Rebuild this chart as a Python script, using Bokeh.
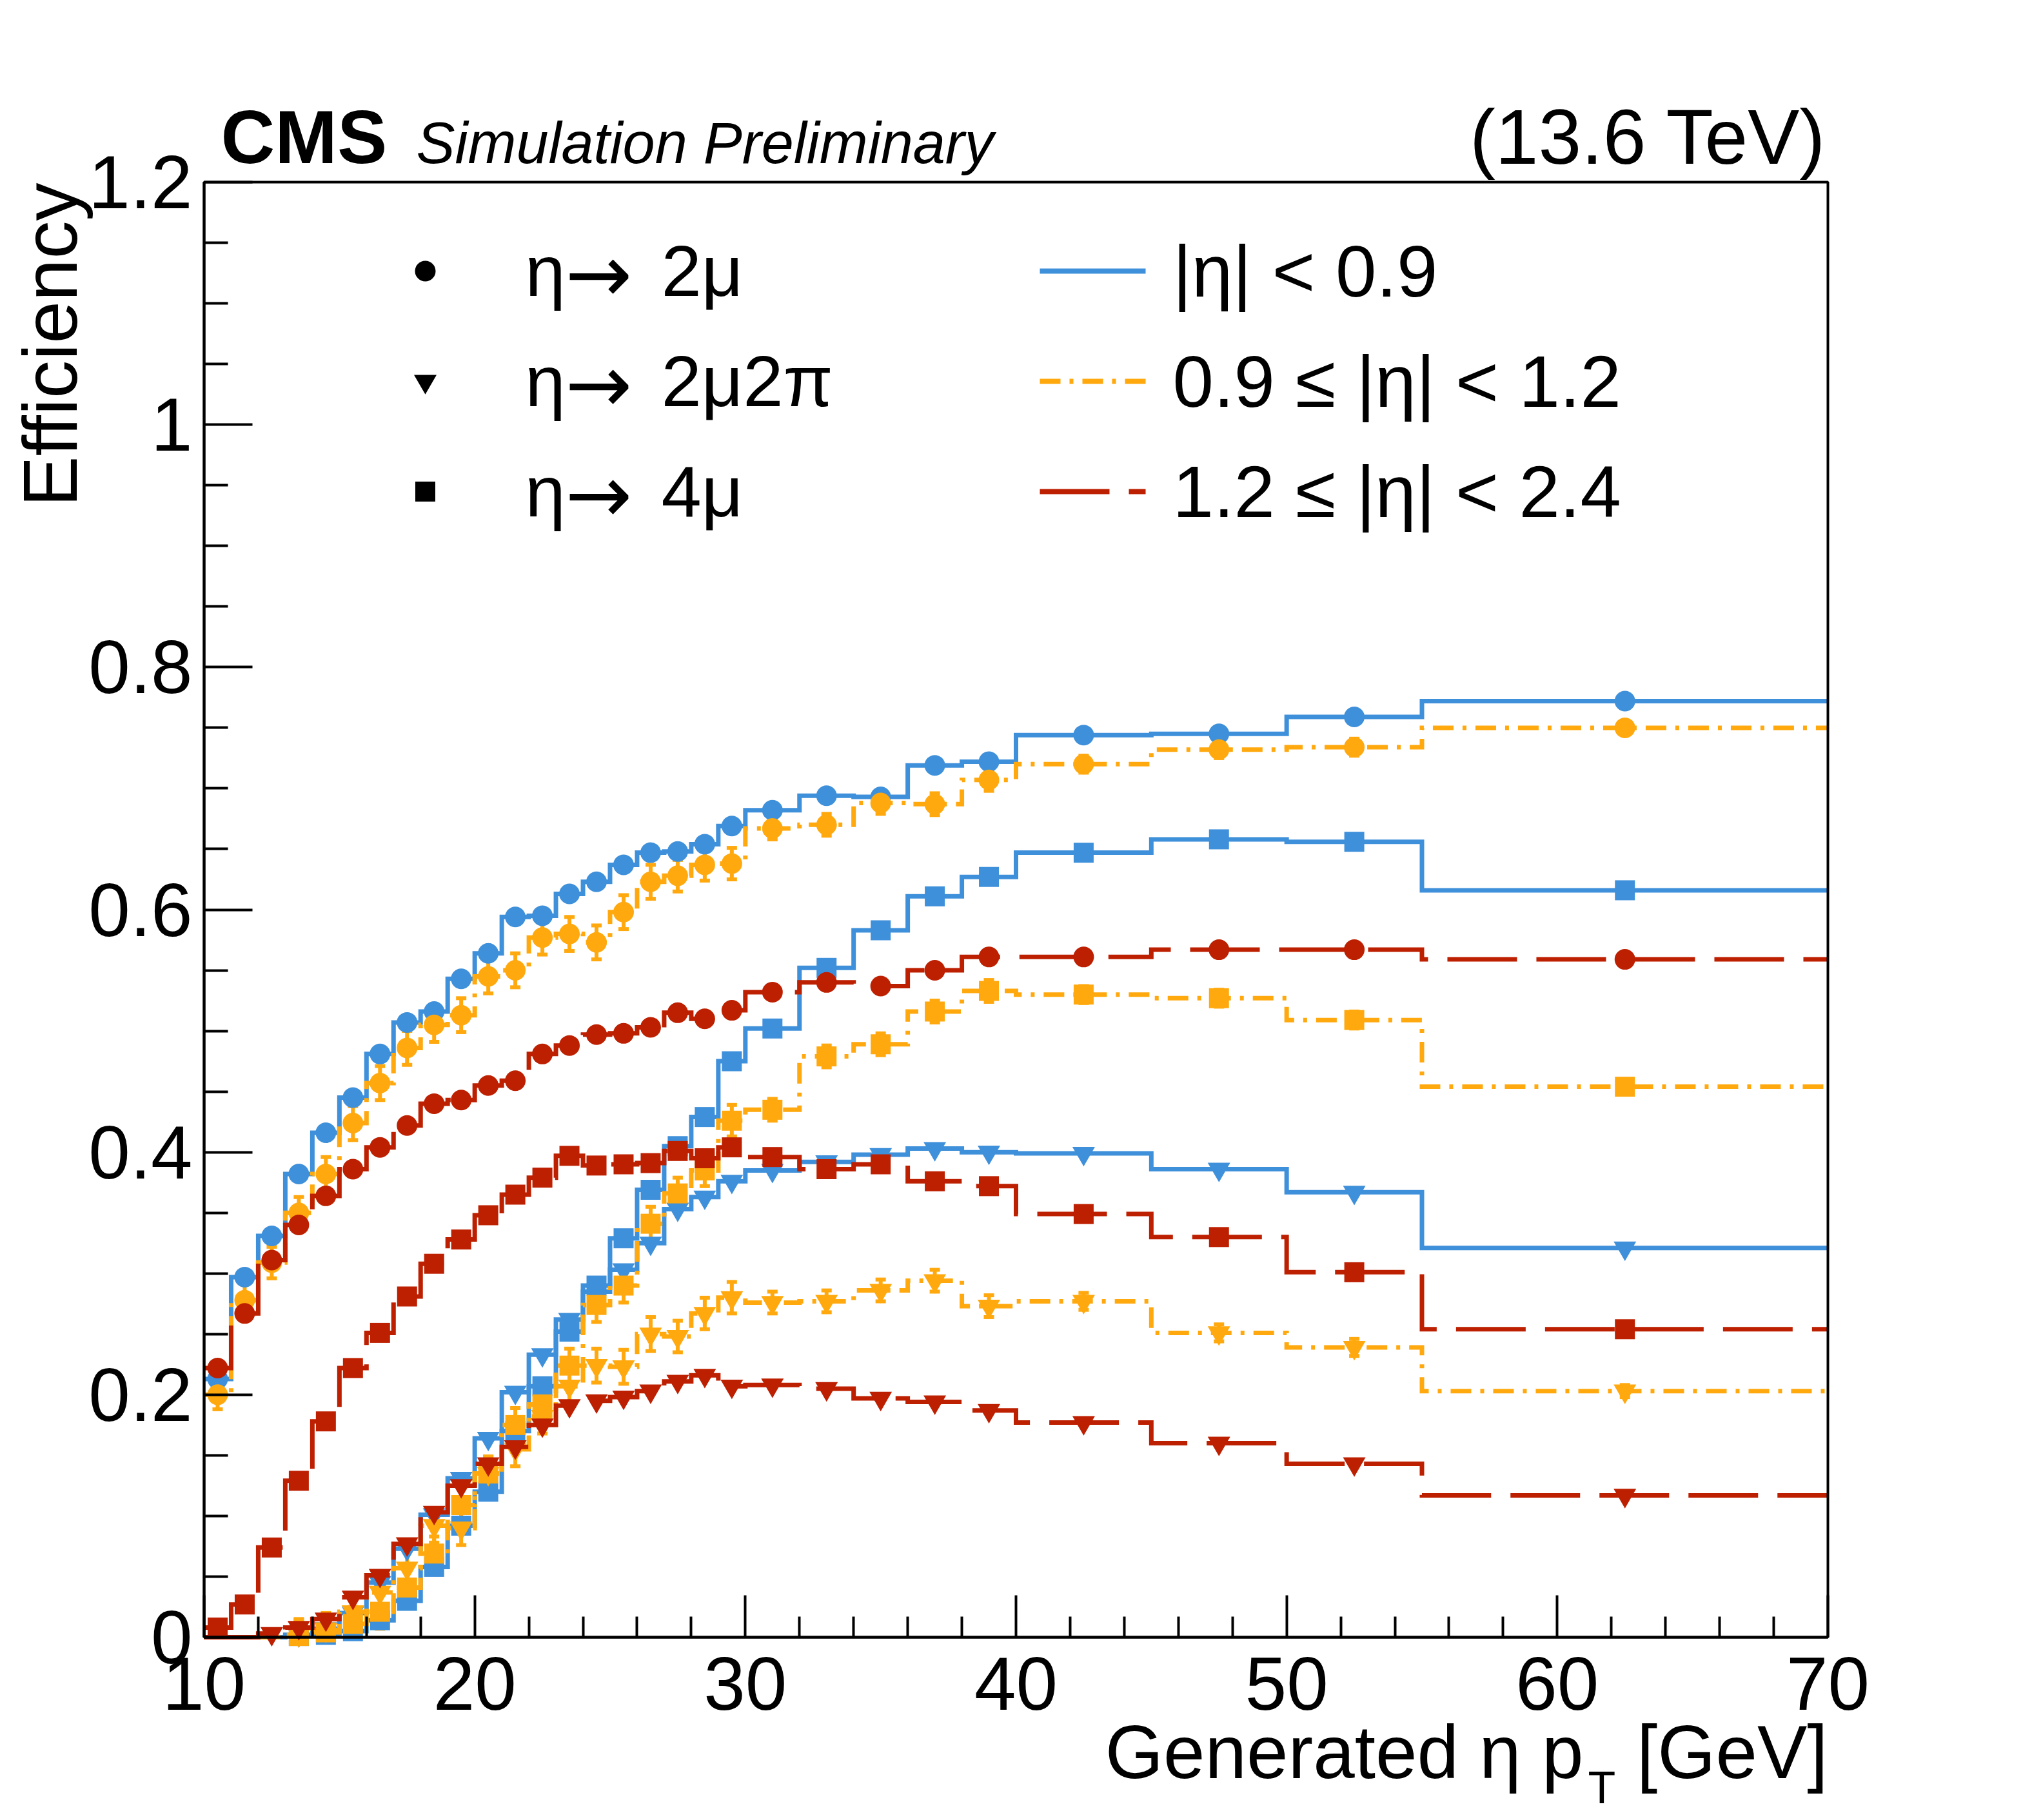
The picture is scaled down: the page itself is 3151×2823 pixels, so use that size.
import math
from bokeh.plotting import figure
from bokeh.models import (Range1d, FixedTicker, Label, Whisker, TeeHead, ColumnDataSource,
                          LinearAxis, BoxAnnotation)
from bokeh.embed import file_html
from bokeh.resources import INLINE

# ---------------- data ----------------
bin_edges = [10, 11, 12, 13, 14, 15, 16, 17, 18, 19, 20, 21, 22, 23, 24, 25, 26, 27,
             28, 29, 30, 32, 34, 36, 38, 40, 45, 50, 55, 70]

# eta -> 2mu
eff_2mu_barrel = [0.213, 0.297, 0.331, 0.382, 0.416, 0.445, 0.481, 0.507, 0.516, 0.543,
                  0.564, 0.594, 0.595, 0.613, 0.623, 0.637, 0.647, 0.648, 0.654, 0.669,
                  0.682, 0.694, 0.693, 0.719, 0.722, 0.744, 0.745, 0.759, 0.772]
eff_2mu_overlap = [0.200, 0.278, 0.309, 0.350, 0.382, 0.424, 0.457, 0.486, 0.505, 0.513,
                   0.545, 0.550, 0.577, 0.580, 0.573, 0.598, 0.623, 0.628, 0.637, 0.638,
                   0.667, 0.670, 0.688, 0.687, 0.707, 0.720, 0.732, 0.734, 0.750]
eff_2mu_endcap = [0.222, 0.267, 0.311, 0.340, 0.364, 0.386, 0.404, 0.422, 0.440, 0.443,
                  0.455, 0.459, 0.481, 0.488, 0.497, 0.498, 0.503, 0.515, 0.510, 0.517,
                  0.532, 0.540, 0.537, 0.550, 0.561, 0.561, 0.567, 0.567, 0.559]
# eta -> 2mu2pi
eff_2mu2pi_barrel = [None, None, None, 0.002, 0.007, 0.020, 0.045, 0.073, 0.101, 0.131,
                     0.164, 0.202, 0.233, 0.262, 0.285, 0.303, 0.325, 0.353, 0.363, 0.376,
                     0.385, 0.392, 0.398, 0.403, 0.400, 0.399, 0.386, 0.367, 0.321]
eff_2mu2pi_overlap = [None, None, None, 0.002, 0.006, 0.021, 0.037, 0.057, 0.092, 0.090,
                      0.135, 0.155, 0.182, 0.207, 0.224, 0.223, 0.250, 0.248, 0.267, 0.280,
                      0.276, 0.277, 0.286, 0.294, 0.273, 0.277, 0.251, 0.239, 0.203]
eff_2mu2pi_endcap = [None, None, 0.003, 0.008, 0.015, 0.033, 0.051, 0.077, 0.103, 0.125,
                     0.143, 0.157, 0.175, 0.191, 0.195, 0.198, 0.203, 0.211, 0.216, 0.207,
                     0.208, 0.205, 0.197, 0.194, 0.187, 0.177, 0.160, 0.143, 0.117]
# eta -> 4mu
eff_4mu_barrel = [None, None, None, 0.001, 0.002, 0.005, 0.014, 0.030, 0.058, 0.092,
                  0.120, 0.170, 0.207, 0.252, 0.290, 0.329, 0.369, 0.405, 0.429, 0.475,
                  0.502, 0.552, 0.583, 0.611, 0.627, 0.647, 0.658, 0.656, 0.616]
eff_4mu_overlap = [None, None, None, 0.001, 0.004, 0.011, 0.021, 0.041, 0.069, 0.109,
                   0.135, 0.175, 0.192, 0.224, 0.274, 0.290, 0.341, 0.366, 0.385, 0.426,
                   0.435, 0.479, 0.489, 0.516, 0.533, 0.530, 0.527, 0.509, 0.454]
eff_4mu_endcap = [0.008, 0.027, 0.074, 0.129, 0.178, 0.222, 0.251, 0.281, 0.308, 0.328,
                  0.348, 0.365, 0.379, 0.397, 0.389, 0.390, 0.391, 0.401, 0.395, 0.404,
                  0.396, 0.386, 0.390, 0.376, 0.372, 0.349, 0.330, 0.301, 0.254]
# statistical uncertainty (visible for the 0.9-1.2 region)
err_overlap = [0.012, 0.013, 0.013, 0.013, 0.014, 0.014, 0.014, 0.014, 0.014, 0.014,
               0.014, 0.014, 0.014, 0.014, 0.014, 0.014, 0.014, 0.013, 0.013, 0.013,
               0.009, 0.009, 0.009, 0.009, 0.009, 0.007, 0.007, 0.007, 0.005]

y_ticks = [0, 0.2, 0.4, 0.6, 0.8, 1.0, 1.2]
y_tick_labels = ["0", "0.2", "0.4", "0.6", "0.8", "1", "1.2"]
y_minor = [0.05, 0.1, 0.15, 0.25, 0.3, 0.35, 0.45, 0.5, 0.55, 0.65, 0.7, 0.75,
           0.85, 0.9, 0.95, 1.05, 1.1, 1.15]
x_ticks = [10, 20, 30, 40, 50, 60, 70]
x_tick_labels = ["10", "20", "30", "40", "50", "60", "70"]
x_minor = [12, 14, 16, 18, 22, 24, 26, 28, 32, 34, 36, 38, 42, 44, 46, 48,
           52, 54, 56, 58, 62, 64, 66, 68]

decay_labels = ["2\u03bc", "2\u03bc2\u03c0", "4\u03bc"]
region_labels = ["|\u03b7| < 0.9", "0.9 \u2264 |\u03b7| < 1.2", "1.2 \u2264 |\u03b7| < 2.4"]

# ---------------- style / geometry ----------------
BLUE, ORANGE, RED = "#3f90da", "#ffa90e", "#bd1f01"
FONT = "Liberation Sans"
region_colors = [BLUE, ORANGE, RED]
region_dash = ["solid", "32 14 6 14", "108 30"]
decay_markers = ["circle", "inverted_triangle", "square"]
decay_sizes = [32, 35, 31]

W, H = 3151, 2823
FL, FR, FT, FB = 316, 2834, 282, 2539   # plot box in canvas pixels
XSPAN = (FR - FL) / 60.0
YSPAN = (FB - FT) / 1.2


def fx(X):
    return 10 + (X - FL) / XSPAN


def fy(Y):
    return (FB - Y) / YSPAN


p = figure(width=W, height=H,
           x_range=Range1d(fx(0), fx(W)), y_range=Range1d(fy(H), fy(0)),
           output_backend="svg", toolbar_location=None,
           x_axis_location=None, y_axis_location=None, title=None,
           min_border=0)
p.min_border_left = p.min_border_right = p.min_border_top = p.min_border_bottom = 0
p.xgrid.visible = False
p.ygrid.visible = False
p.outline_line_color = None
p.background_fill_color = "white"
p.border_fill_color = "white"

xaxis = LinearAxis(fixed_location=0, bounds=(10, 70),
                   ticker=FixedTicker(ticks=x_ticks, minor_ticks=x_minor))
xaxis.major_label_overrides = dict(zip(x_ticks, x_tick_labels))
xaxis.major_tick_in = 65
xaxis.minor_tick_in = 32
xaxis.major_label_standoff = 31

yaxis = LinearAxis(fixed_location=10, bounds=(0, 1.2),
                   ticker=FixedTicker(ticks=y_ticks, minor_ticks=y_minor))
yaxis.major_label_overrides = dict(zip(y_ticks, y_tick_labels))
yaxis.major_tick_in = 75
yaxis.minor_tick_in = 37
yaxis.major_label_standoff = 18

for ax in (xaxis, yaxis):
    ax.axis_line_width = 4
    ax.axis_line_color = "black"
    ax.major_tick_line_width = 4
    ax.minor_tick_line_width = 4
    ax.major_tick_out = 0
    ax.minor_tick_out = 0
    ax.major_label_text_font = FONT
    ax.major_label_text_font_size = "116px"
    ax.major_label_text_color = "black"

p.add_layout(xaxis, "below")
p.add_layout(yaxis, "left")

centers = [(a + b) / 2 for a, b in zip(bin_edges[:-1], bin_edges[1:])]

series = [
    (eff_2mu_barrel, 0, 0, None), (eff_2mu2pi_barrel, 0, 1, None), (eff_4mu_barrel, 0, 2, None),
    (eff_2mu_overlap, 1, 0, err_overlap), (eff_2mu2pi_overlap, 1, 1, err_overlap),
    (eff_4mu_overlap, 1, 2, err_overlap),
    (eff_2mu_endcap, 2, 0, None), (eff_2mu2pi_endcap, 2, 1, None), (eff_4mu_endcap, 2, 2, None),
]

for vals, ri, di, errs in series:
    col = region_colors[ri]
    line_vals = [v if v is not None else 0.0 for v in vals]
    p.step(x=bin_edges, y=line_vals + [line_vals[-1]], mode="after",
           line_color=col, line_width=7, line_dash=region_dash[ri],
           line_join="miter", line_cap="butt")
    xs = [c for c, v in zip(centers, vals) if v is not None]
    ys = [v for v in vals if v is not None]
    if errs is not None:
        es = [e for e, v in zip(errs, vals) if v is not None]
        src = ColumnDataSource(dict(x=xs, upper=[y + e for y, e in zip(ys, es)],
                                    lower=[max(0.0, y - e) for y, e in zip(ys, es)]))
        p.add_layout(Whisker(source=src, base="x", upper="upper", lower="lower",
                             dimension="height", line_color=col, line_width=6,
                             upper_head=TeeHead(size=16, line_color=col, line_width=6),
                             lower_head=TeeHead(size=16, line_color=col, line_width=6)))
    p.scatter(x=xs, y=ys, marker=decay_markers[di], size=decay_sizes[di],
              fill_color=col, line_color=None)

# plot frame
p.add_layout(BoxAnnotation(left=10, right=70, bottom=0, top=1.2,
                           fill_color=None, fill_alpha=0,
                           line_color="black", line_alpha=1.0, line_width=4))


# ---------------- texts ----------------
def lab(X, Y, text, size, align="left", style="normal", angle=0.0, font=FONT):
    p.add_layout(Label(x=fx(X), y=fy(Y), text=text, text_font=font,
                       text_font_size=size, text_font_style=style, text_color="black",
                       text_baseline="middle", text_align=align, angle=angle))


# legend
row_y = [420, 591, 762]
for i in range(3):
    p.scatter(x=[fx(659)], y=[fy(row_y[i])], marker=decay_markers[i], size=decay_sizes[i],
              fill_color="black", line_color=None)
    lab(814, row_y[i], "\u03b7", "112px")
    lab(876, row_y[i] + 4, "\u2192", "124px", font="DejaVu Sans")
    lab(1025, row_y[i], decay_labels[i], "112px")
    p.line(x=[fx(1612), fx(1776)], y=[fy(row_y[i]), fy(row_y[i])],
           line_color=region_colors[i], line_width=8, line_dash=region_dash[i],
           line_cap="butt")
    lab(1818, row_y[i], region_labels[i], "114px")

lab(342, 212, "CMS", "116px", style="bold")
lab(645, 221, "Simulation Preliminary", "90px", style="italic")
lab(2832, 211, "(13.6 TeV)", "120px", align="right")
lab(77, 283, "Efficiency", "118px", align="right", angle=math.pi / 2)
lab(2455, 2717, "Generated \u03b7 p", "116px", align="right")
lab(2462, 2772, "T", "70px")
lab(2834, 2717, "[GeV]", "116px", align="right")

open("out.html", "w").write(file_html(p, INLINE))
